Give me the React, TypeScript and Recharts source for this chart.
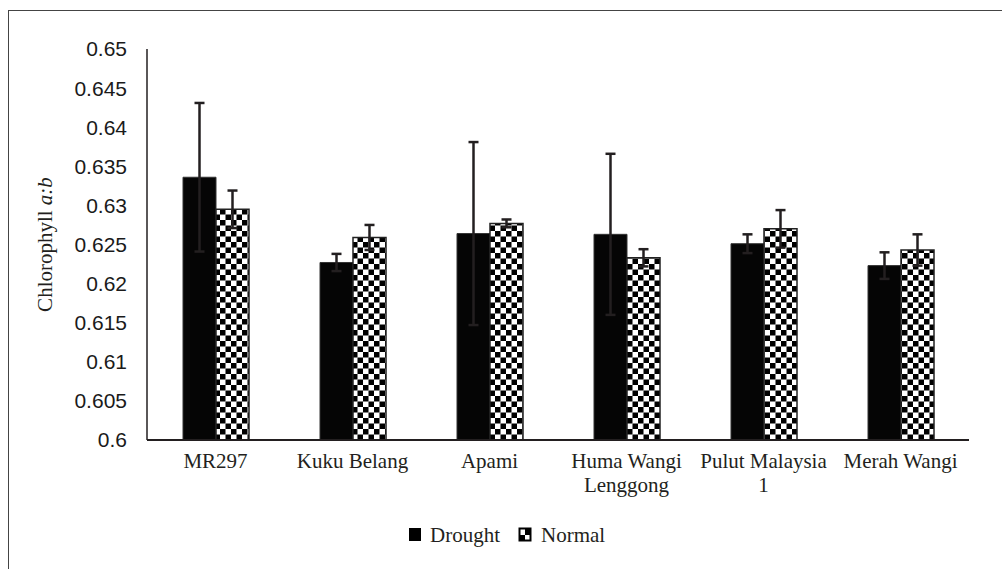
import React from 'react';
import { BarChart, Bar, XAxis, YAxis, ErrorBar, Legend } from 'recharts';

const categories = ['MR297', 'Kuku Belang', 'Apami', 'Huma Wangi Lenggong', 'Pulut Malaysia 1', 'Merah Wangi'];
const droughtValues = [0.6336, 0.6227, 0.6264, 0.6263, 0.6251, 0.6223];
const droughtErrors = [0.0095, 0.0011, 0.0117, 0.0103, 0.0012, 0.0017];
const normalValues = [0.6295, 0.6259, 0.6277, 0.6233, 0.627, 0.6243];
const normalErrors = [0.0024, 0.0016, 0.0005, 0.0011, 0.0024, 0.002];
const yTicks = [0.6, 0.605, 0.61, 0.615, 0.62, 0.625, 0.63, 0.635, 0.64, 0.645, 0.65];

const data = categories.map((name, i) => ({
  name,
  drought: droughtValues[i],
  droughtErr: droughtErrors[i],
  normal: normalValues[i],
  normalErr: normalErrors[i],
}));

const serif = "'Liberation Serif', 'Times New Roman', serif";
const sans = "'Liberation Sans', Arial, sans-serif";
const ink = '#231f20';

// wrap category names the way the original does (two lines max)
const wrapLabel = (s: string) => {
  if (s === 'Huma Wangi Lenggong') return ['Huma Wangi', 'Lenggong'];
  if (s === 'Pulut Malaysia 1') return ['Pulut Malaysia', '1'];
  return [s];
};

const CategoryTick = ({ x, y, payload }: any) => {
  const lines = wrapLabel(payload.value);
  return (
    <text x={x} y={y} textAnchor="middle" fontFamily={serif} fontSize={21} fill={ink}>
      {lines.map((l, i) => (
        <tspan key={i} x={x} dy={i === 0 ? 20 : 24}>{l}</tspan>
      ))}
    </text>
  );
};

const YLabel = ({ viewBox }: any) => {
  const cx = 52;
  const cy = viewBox ? viewBox.y + viewBox.height / 2 : 245;
  return (
    <text
      x={cx}
      y={cy}
      transform={`rotate(-90 ${cx} ${cy})`}
      textAnchor="middle"
      fontFamily={serif}
      fontSize={21}
      fill={ink}
    >
      Chlorophyll <tspan fontStyle="italic">a:b</tspan>
    </text>
  );
};

const LegendContent = () => (
  <svg width={1002} height={30} style={{ display: 'block' }}>
    <rect x={409.5} y={6.5} width={11} height={12} fill="#000" stroke="#000" />
    <text x={430} y={20} fontFamily={serif} fontSize={21} fill={ink}>Drought</text>
    <rect x={519.5} y={6.5} width={11} height={12} fill="#fff" stroke="#000" strokeWidth={2} />
    <rect x={525} y={7} width={5} height={6} fill="#000" />
    <rect x={520} y={13} width={5} height={5} fill="#000" />
    <text x={541} y={20} fontFamily={serif} fontSize={21} fill={ink}>Normal</text>
  </svg>
);

export default function App() {
  return (
    <div style={{ position: 'absolute', left: 0, top: 0, width: 1002, height: 569, background: '#fff' }}>
      <div
        style={{
          position: 'absolute',
          left: 8,
          top: 10,
          width: 994,
          height: 559,
          borderLeft: '1.5px solid #444',
          borderTop: '1.5px solid #444',
        }}
      />
      <BarChart
        width={1002}
        height={569}
        data={data}
        margin={{ top: 49, right: 33, left: 47, bottom: 39 }}
        barGap={0}
        barSize={33}
        style={{ position: 'absolute', left: 0, top: 0 }}
      >
        <defs>
          <pattern id="checker" patternUnits="userSpaceOnUse" width={11} height={11}>
            <rect x={0} y={0} width={11} height={11} fill="#fff" />
            <rect x={0} y={0} width={5.5} height={5.5} fill="#000" />
            <rect x={5.5} y={5.5} width={5.5} height={5.5} fill="#000" />
          </pattern>
        </defs>
        <XAxis
          dataKey="name"
          height={60}
          tickLine={false}
          axisLine={{ stroke: ink, strokeWidth: 2 }}
          tick={<CategoryTick />}
          interval={0}
        />
        <YAxis
          width={100}
          domain={[0.6, 0.65]}
          ticks={yTicks}
          allowDataOverflow
          tickLine={false}
          tickSize={6}
          tickMargin={14}
          axisLine={{ stroke: ink, strokeWidth: 1.5 }}
          tick={{ fontFamily: sans, fontSize: 21, fill: '#1a1a1a' }}
          tickFormatter={(v: number) => String(Number(v.toFixed(3)))}
          label={<YLabel />}
        />
        <Legend
          verticalAlign="bottom"
          content={<LegendContent />}
          wrapperStyle={{ position: 'absolute', top: 522, left: 0, width: 1002 }}
        />
        <Bar dataKey="drought" name="Drought" fill="#050505" stroke="#333" strokeWidth={1} isAnimationActive={false}>
          <ErrorBar dataKey="droughtErr" width={5} strokeWidth={2.5} stroke={ink} />
        </Bar>
        <Bar dataKey="normal" name="Normal" fill="url(#checker)" stroke="#222" strokeWidth={1.5} isAnimationActive={false}>
          <ErrorBar dataKey="normalErr" width={5} strokeWidth={2.5} stroke={ink} />
        </Bar>
      </BarChart>
    </div>
  );
}
